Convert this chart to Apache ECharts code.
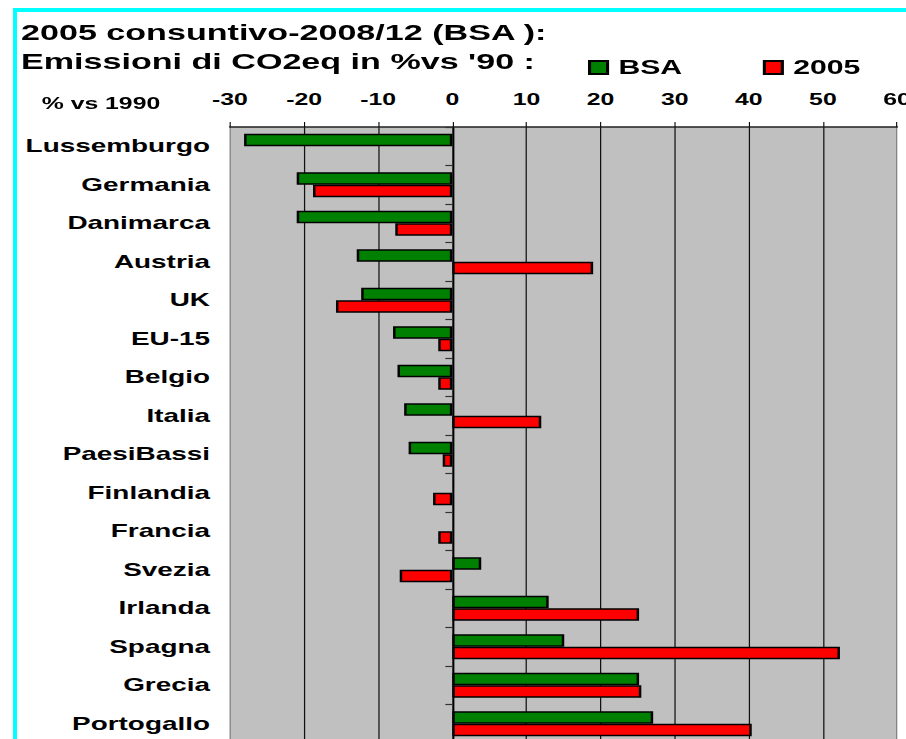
<!DOCTYPE html>
<html>
<head>
<meta charset="utf-8">
<script src="https://cdn.jsdelivr.net/npm/echarts@6/dist/echarts.min.js"></script>
<style>
html,body{margin:0;padding:0;background:#fff;overflow:hidden;width:906px;height:739px}
#chart{position:absolute;left:0;top:0;width:584.5px;height:739px;transform:scaleX(1.55);transform-origin:0 0}
</style>
</head>
<body>
<div id="chart"></div>
<script>
// ---- data ----
const titleLines = ["2005 consuntivo-2008/12 (BSA ):", "Emissioni di CO2eq in %vs '90 :"];
const unitLabel = "% vs 1990";
const categories = ["Lussemburgo", "Germania", "Danimarca", "Austria", "UK", "EU-15", "Belgio", "Italia",
  "PaesiBassi", "Finlandia", "Francia", "Svezia", "Irlanda", "Spagna", "Grecia", "Portogallo"];
const seriesNames = ["BSA", "2005"];
const bsaValues   = [-28.1, -21.0, -21.0, -12.9, -12.3, -8.0, -7.4, -6.5, -5.9, null, null, 3.9, 13.0, 15.1, 25.2, 27.1];
const y2005Values = [null, -18.8, -7.7, 19.0, -15.7, -1.9, -1.9, 12.0, -1.3, -2.6, -1.9, -7.1, 25.2, 52.3, 25.5, 40.4];
const xMin = -30, xMax = 60, xStep = 10;

// ---- rendering ----
const SX = 1.55;            // horizontal stretch of the original picture
const W = 906 / SX, H = 739;
const FONT = "'Liberation Sans', Arial, sans-serif";
const chart = echarts.init(document.getElementById('chart'), null, {renderer: 'svg', width: W, height: H});

const nTicks = Math.round((xMax - xMin) / xStep) + 1;
const splitColors = [];
for (let i = 0; i < nTicks; i++) splitColors.push(i === 0 || i === nTicks - 1 ? '#808080' : '#111');

const option = {
  backgroundColor: '#ffffff',
  animation: false,
  title: [
    {text: titleLines.join('\n'), left: 21 / SX, top: 18, padding: 0,
     textStyle: {fontFamily: FONT, fontWeight: 'bold', fontSize: 22, lineHeight: 29, color: '#000'}},
    {text: unitLabel, left: 41.7 / SX, top: 95, padding: 0,
     textStyle: {fontFamily: FONT, fontWeight: 'bold', fontSize: 16, lineHeight: 16, color: '#000'}}
  ],
  legend: {
    data: seriesNames, left: 588 / SX, top: 57.5, padding: 0, icon: 'rect',
    itemWidth: 18 / SX, itemHeight: 13, itemGap: 52,
    textStyle: {fontFamily: FONT, fontWeight: 'bold', fontSize: 19.5, color: '#000', padding: [0, 0, 0, 2]}
  },
  grid: {left: 230 / SX, top: 127, width: 667 / SX, height: 616, show: true,
         backgroundColor: '#c0c0c0', borderWidth: 0, containLabel: false, outerBoundsMode: 'none'},
  xAxis: {
    type: 'value', position: 'top', min: xMin, max: xMax, interval: xStep,
    axisLine: {show: true, onZero: false, lineStyle: {color: '#222', width: 1.5}},
    axisTick: {show: true, length: 5, lineStyle: {color: '#000', width: 0.7}},
    axisLabel: {margin: 20, fontFamily: FONT, fontWeight: 'bold', fontSize: 16, lineHeight: 16, color: '#000'},
    splitLine: {show: true, lineStyle: {color: splitColors, width: 0.8}}
  },
  yAxis: [
    {type: 'category', data: categories, inverse: true, position: 'left',
     axisLine: {show: false, onZero: false}, axisTick: {show: false},
     axisLabel: {margin: 20 / SX, fontFamily: FONT, fontWeight: 'bold', fontSize: 18, color: '#000'},
     splitLine: {show: false}},
    {type: 'category', data: categories, inverse: true, position: 'left',
     axisLine: {show: true, onZero: true, lineStyle: {color: '#000', width: 1.3}},
     axisTick: {show: true, length: 7 / SX, lineStyle: {color: '#333', width: 1.2}},
     axisLabel: {show: false}, splitLine: {show: false}}
  ],
  series: [
    {name: seriesNames[0], type: 'bar', data: bsaValues, barWidth: 12.5, barGap: '0%',
     itemStyle: {color: '#008000', borderColor: '#000', borderWidth: 1.6}},
    {name: seriesNames[1], type: 'bar', data: y2005Values, barWidth: 12.5, barGap: '0%',
     itemStyle: {color: '#ff0000', borderColor: '#000', borderWidth: 1.6}}
  ],
  graphic: [
    {type: 'rect', shape: {x: 13 / SX, y: 8, width: 4 / SX, height: H}, style: {fill: '#00ffff'}, silent: true},
    {type: 'rect', shape: {x: 13 / SX, y: 8, width: W, height: 4}, style: {fill: '#00ffff'}, silent: true}
  ]
};
chart.setOption(option);
</script>
</body>
</html>
